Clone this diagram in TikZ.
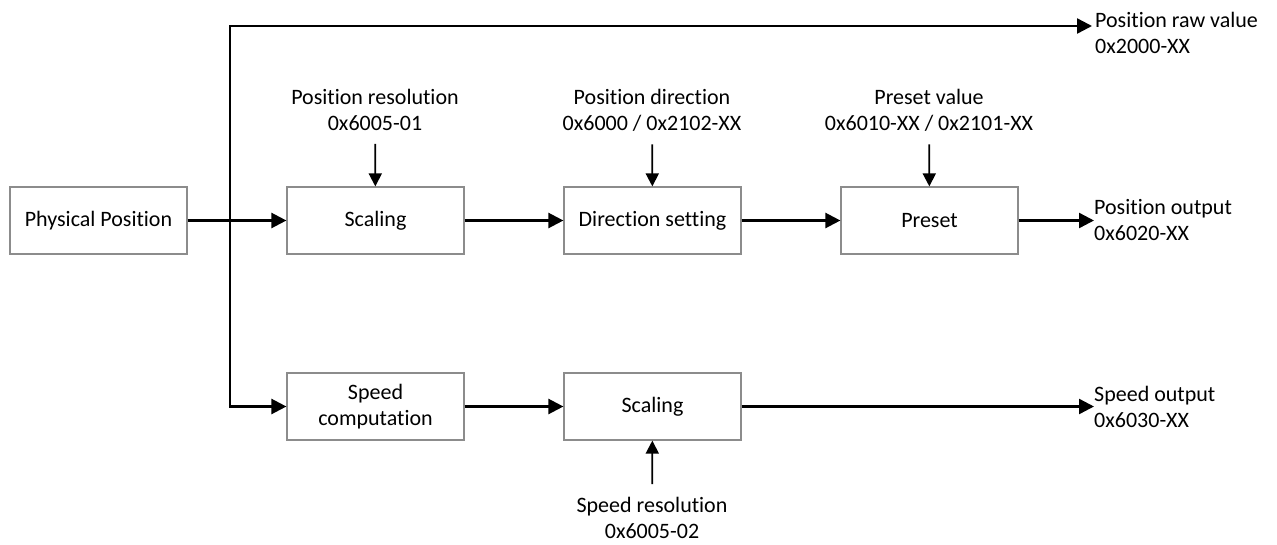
\documentclass[tikz,border=0pt]{standalone}
\usepackage{fontspec}
\setmainfont{Carlito}[Ligatures=NoCommon]
\usetikzlibrary{arrows.meta}
\usetikzlibrary{positioning}
\tikzset{block/.style = {draw=gray!90, line width=1.2pt, minimum width=177pt,
                         minimum height=67pt, align=center, inner sep=0pt},
         sig/.style   = {line width=2.4pt, -{Triangle[length=15pt,width=15pt]}},
         param/.style = {line width=1.8pt, shorten <=13pt,
                         -{Triangle[length=13pt,width=13pt]}},
         lbl/.style   = {align=center, inner sep=0pt}}

\begin{document}
\begin{tikzpicture}[x=1pt, y=-1pt, font=\fontsize{22}{26}\selectfont]
      \useasboundingbox (0,0) rectangle (1277,544);

      % blocks
      \node [block] (phys)  at (98.5, 220.5)  {Physical Position};
      \node [block] (scal)  at (375.5, 220.5) {Scaling};
      \node [block] (dir)   at (652.5, 220.5) {Direction setting};
      \node [block] (pre)   at (929.5, 220.5) {Preset};
      \node [block] (spd)   at (375.5, 406.5) {Speed\\computation};
      \node [block] (sscal) at (652.5, 406.5) {Scaling};

      % parameters
      \node [lbl] (posres) at (375, 110) {Position resolution\\0x6005-01};
      \node [lbl] (posdir) at (652, 110) {Position direction\\0x6000 / 0x2102-XX};
      \node [lbl] (preval) at (929, 110) {Preset value\\0x6010-XX / 0x2101-XX};
      \node [lbl] (spdres) at (652, 518) {Speed resolution\\0x6005-02};

      % outputs
      \coordinate (split)  at (230, 220.5);
      \coordinate (rawend) at (1092, 26);
      \node [lbl, align=left, anchor=west] (rawout) at (1095, 33)  {Position raw value\\0x2000-XX};
      \node [lbl, align=left, anchor=west] (posout) at (1094, 220.5) {Position output\\0x6020-XX};
      \node [lbl, align=left, anchor=west] (spdout) at (1094, 406.5) {Speed output\\0x6030-XX};

      \draw [sig] (phys) -- (scal);
      \draw [sig] (scal) -- (dir);
      \draw [sig] (dir) -- (pre);
      \draw [sig] (pre) -- (posout.west);
      \draw [sig] (split) |- (rawend);
      \draw [sig] (split) |- (spd);
      \draw [sig] (spd) -- (sscal);
      \draw [sig] (sscal) -- (spdout.west);

      \draw [param] (posres) -- (scal);
      \draw [param] (posdir) -- (dir);
      \draw [param] (preval) -- (pre);
      \draw [param] (spdres) -- (sscal);
\end{tikzpicture}
\end{document}
